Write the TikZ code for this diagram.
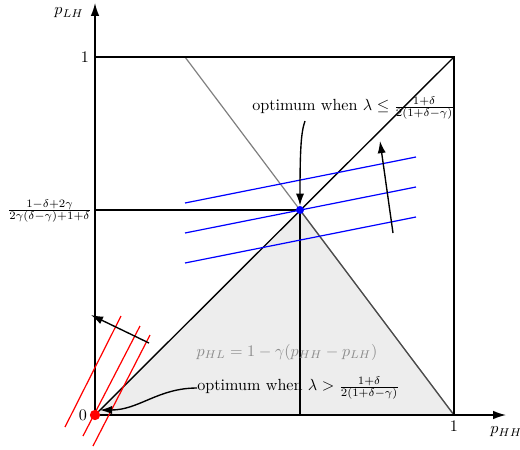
\documentclass[tikz,border=0pt]{standalone}
\usetikzlibrary{arrows.meta}
\begin{document}
\begin{tikzpicture}[x=0.62pt,y=-0.62pt,
  blk/.style={line width=0.85pt,black},
  axistip/.style={-{Latex[length=8pt,width=5.3pt]}},
  annotip/.style={-{Latex[length=7.5pt,width=5.1pt]}},
  bluel/.style={line width=0.75pt,blue},
  redl/.style={line width=0.75pt,red},
  lbl/.style={inner sep=0pt},
  dot/.style={circle,inner sep=0pt}]
\useasboundingbox (0,0) rectangle (520,449);
% key points
\coordinate (O) at (95,415);
\coordinate (X1) at (454,415);
\coordinate (Y1) at (95,57);
\coordinate (C) at (454,57);
\coordinate (G) at (185,57);
\coordinate (P) at (300,210);
\coordinate (PL) at (95,210);
\coordinate (PB) at (300,415);
\coordinate (XE) at (506,415);
\coordinate (YE) at (95,3);
% shaded region
\fill[black!7] (O) -- (P) -- (X1) -- cycle;
\draw[line width=0.75pt,black!50] (G) -- (X1);
\draw[line width=0.75pt,black!70] (P) -- (X1);
\draw[blk] (O) -- (C);
\draw[blk] (Y1) -- (C) -- (X1);
\draw[blk] (PL) -- (P) -- (PB);
% axes
\draw[blk,axistip] (O) -- (XE);
\draw[blk,axistip] (O) -- (YE);
% blue iso-lines
\coordinate (b1s) at (185,203); \coordinate (b1e) at (416,157);
\coordinate (b2s) at (185,233); \coordinate (b2e) at (416,187);
\coordinate (b3s) at (185,263); \coordinate (b3e) at (416,217);
\draw[bluel] (b1s) -- (b1e);
\draw[bluel] (b2s) -- (b2e);
\draw[bluel] (b3s) -- (b3e);
% red iso-lines
\coordinate (r1s) at (65,427); \coordinate (r1e) at (121,316);
\coordinate (r2s) at (83,436); \coordinate (r2e) at (140,326);
\coordinate (r3s) at (93,446); \coordinate (r3e) at (150,335);
\draw[redl] (r1s) -- (r1e);
\draw[redl] (r2s) -- (r2e);
\draw[redl] (r3s) -- (r3e);
% direction arrows
\coordinate (ua) at (393,233); \coordinate (ub) at (380,141);
\draw[blk,annotip] (ua) -- (ub);
\coordinate (la) at (149,343); \coordinate (lb) at (91,315);
\draw[blk,annotip] (la) -- (lb);
% dots
\node[dot,fill=blue,minimum size=5pt] (B) at (P) {};
\node[dot,fill=red,minimum size=6.4pt] (R) at (O) {};
% labels
\node[lbl] (ylab) at (69,13) {$p_{LH}$};
\node[lbl,anchor=west] (xlab) at (490,432) {$p_{HH}$};
\node[lbl] (y1) at (85,57) {1};
\node[lbl] (x1) at (454,426) {1};
\node[lbl] (z0) at (83,415) {0};
\node[lbl,anchor=east] (fr) at (92,211) {$\frac{1-\delta+2\gamma}{2\gamma(\delta-\gamma)+1+\delta}$};
\node[lbl,text=black!45] (eq) at (287,352) {$p_{HL}=1-\gamma(p_{HH}-p_{LH})$};
\node[lbl,anchor=west] (opt1) at (252,108) {optimum when $\lambda\leq\frac{1+\delta}{2(1+\delta-\gamma)}$};
\node[lbl,anchor=west] (opt2) at (197,388) {optimum when $\lambda>\frac{1+\delta}{2(1+\delta-\gamma)}$};
% annotation arrows
\coordinate (a1) at (305,121);
\draw[blk,annotip] (a1) .. controls (301,132) and (300,150) .. (B);
\coordinate (rt) at (100,410);
\draw[blk,annotip] (opt2.west) to[out=180,in=0] (rt);
\end{tikzpicture}
\end{document}
